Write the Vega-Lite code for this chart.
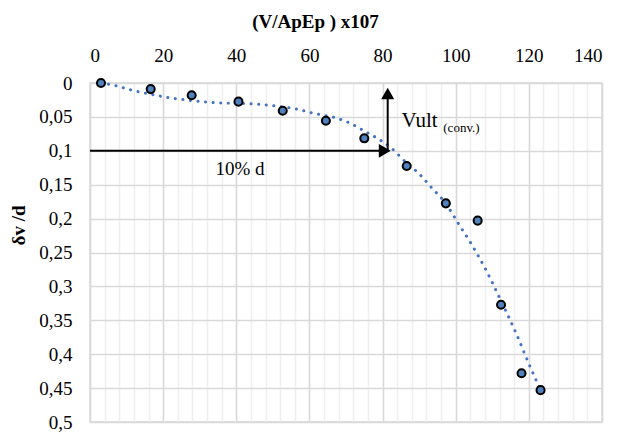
{
  "$schema": "https://vega.github.io/schema/vega-lite/v6.json",
  "width": 512,
  "height": 339,
  "autosize": "none",
  "padding": {"left": 90, "top": 83, "right": 16, "bottom": 14},
  "background": "white",
  "config": {
    "view": {"stroke": "#D4D4D4", "strokeWidth": 1.5},
    "font": "Liberation Serif",
    "axis": {"labelFont": "Liberation Serif", "titleFont": "Liberation Serif", "labelFontSize": 19, "labelColor": "black", "titleColor": "black", "titleFontSize": 19, "titleFontWeight": "bold"},
    "style": {"guide-label": {"font": "Liberation Serif"}, "guide-title": {"font": "Liberation Serif"}}
  },
  "datasets": {
    "points": [
      {"x": 3.0, "y": 0.0},
      {"x": 16.6, "y": 0.009},
      {"x": 27.8, "y": 0.018},
      {"x": 40.6, "y": 0.0275},
      {"x": 52.7, "y": 0.041},
      {"x": 64.5, "y": 0.0556},
      {"x": 75.0, "y": 0.0816},
      {"x": 86.6, "y": 0.1224},
      {"x": 97.3, "y": 0.1775},
      {"x": 106.0, "y": 0.203},
      {"x": 112.4, "y": 0.327},
      {"x": 118.0, "y": 0.428},
      {"x": 123.2, "y": 0.453}
    ],
    "trend": [
      {"x": 3, "y": 0.0},
      {"x": 7, "y": 0.004},
      {"x": 11, "y": 0.010},
      {"x": 17, "y": 0.017},
      {"x": 22, "y": 0.022},
      {"x": 28, "y": 0.026},
      {"x": 34, "y": 0.029},
      {"x": 40, "y": 0.030},
      {"x": 45, "y": 0.031},
      {"x": 50, "y": 0.0335},
      {"x": 56.5, "y": 0.0385},
      {"x": 61, "y": 0.0445},
      {"x": 67.5, "y": 0.052},
      {"x": 71, "y": 0.059},
      {"x": 75.2, "y": 0.0715},
      {"x": 79.3, "y": 0.084},
      {"x": 82.5, "y": 0.0965},
      {"x": 86.6, "y": 0.118},
      {"x": 90.2, "y": 0.135},
      {"x": 93, "y": 0.152},
      {"x": 97.3, "y": 0.178},
      {"x": 100.7, "y": 0.207},
      {"x": 104.1, "y": 0.236},
      {"x": 108.3, "y": 0.276},
      {"x": 112.1, "y": 0.318},
      {"x": 116.5, "y": 0.369},
      {"x": 120, "y": 0.414},
      {"x": 123.2, "y": 0.453}
    ],
    "hArrow": [{"x": 0, "x2": 80.6, "y": 0.1}],
    "hHead": [{"x": 80.6, "y": 0.1}],
    "vArrow": [{"x": 81.4, "y": 0.1, "y2": 0.0155}],
    "vHead": [{"x": 81.4, "y": 0.0155}],
    "label10": [{"x": 41.0, "y": 0.1357, "text": "10% d"}],
    "labelVult": [{"x": 85.2, "y": 0.0653, "text": "Vult"}],
    "labelConv": [{"x": 96.6, "y": 0.0718, "text": "(conv.)"}]
  },
  "encoding": {
    "y": {
      "field": "y",
      "type": "quantitative",
      "scale": {"domain": [0, 0.5], "reverse": true, "nice": false},
      "axis": {
        "values": [0, 0.05, 0.1, 0.15, 0.2, 0.25, 0.3, 0.35, 0.4, 0.45, 0.5],
        "labelExpr": "replace(format(datum.value, '.2~f'), '.', ',')",
        "labelFont": "Liberation Serif",
        "labelFontSize": 19,
        "grid": true,
        "gridColor": "#D9D9D9",
        "gridWidth": 1.5,
        "domain": false,
        "ticks": false,
        "tickSize": 0,
        "labelPadding": 18,
        "title": "δv /d",
        "titleFont": "Liberation Serif",
        "titleAngle": -90,
        "titleX": -72,
        "titleY": 142,
        "titleAlign": "center",
        "titleBaseline": "middle"
      }
    }
  },
  "layer": [
    {
      "data": {"name": "trend"},
      "mark": {"type": "line", "color": "#4472C4", "strokeWidth": 3, "strokeCap": "round", "strokeDash": [0.1, 7.5], "interpolate": "monotone"},
      "encoding": {
        "x": {
          "field": "x",
          "type": "quantitative",
          "scale": {"domain": [0, 140], "nice": false},
          "axis": {
            "orient": "bottom",
            "values": [0, 4, 8, 12, 16, 20, 24, 28, 32, 36, 40, 44, 48, 52, 56, 60, 64, 68, 72, 76, 80, 84, 88, 92, 96, 100, 104, 108, 112, 116, 120, 124, 128, 132, 136, 140],
            "grid": true,
            "gridColor": "#EFEFEF",
            "gridWidth": 1.5,
            "labels": false,
            "ticks": false,
            "domain": false,
            "title": null
          }
        }
      }
    },
    {
      "data": {"name": "hArrow"},
      "mark": {"type": "rule", "color": "black", "strokeWidth": 2},
      "encoding": {
        "x": {"field": "x", "type": "quantitative", "axis": null},
        "x2": {"field": "x2"}
      }
    },
    {
      "data": {"name": "vArrow"},
      "mark": {"type": "rule", "color": "black", "strokeWidth": 2},
      "encoding": {
        "x": {"field": "x", "type": "quantitative", "axis": null},
        "y2": {"field": "y2"}
      }
    },
    {
      "data": {"name": "hHead"},
      "mark": {"type": "point", "shape": "triangle-right", "filled": true, "color": "black", "opacity": 1, "size": 190},
      "encoding": {
        "x": {"field": "x", "type": "quantitative", "axis": null}
      }
    },
    {
      "data": {"name": "vHead"},
      "mark": {"type": "point", "shape": "triangle-up", "filled": true, "color": "black", "opacity": 1, "size": 170},
      "encoding": {
        "x": {"field": "x", "type": "quantitative", "axis": null}
      }
    },
    {
      "data": {"name": "points"},
      "mark": {"type": "point", "shape": "circle", "filled": true, "fill": "#4F81BD", "stroke": "black", "strokeWidth": 2, "opacity": 1, "size": 65},
      "encoding": {
        "x": {
          "field": "x",
          "type": "quantitative",
          "axis": {
            "orient": "top",
            "values": [0, 20, 40, 60, 80, 100, 120, 140],
            "labelFont": "Liberation Serif",
            "labelFontSize": 19,
            "grid": true,
            "gridColor": "#D9D9D9",
            "gridWidth": 1.5,
            "domain": false,
            "ticks": false,
            "tickSize": 0,
            "labelPadding": 18,
            "title": "(V/ApEp ) x107",
            "titleFont": "Liberation Serif",
            "titleX": 225,
            "titleY": -56,
            "titleAlign": "center",
            "titleBaseline": "alphabetic"
          }
        }
      }
    },
    {
      "data": {"name": "label10"},
      "mark": {"type": "text", "font": "Liberation Serif", "fontSize": 19, "color": "black", "align": "center", "baseline": "alphabetic"},
      "encoding": {
        "x": {"field": "x", "type": "quantitative", "axis": null},
        "text": {"field": "text"}
      }
    },
    {
      "data": {"name": "labelVult"},
      "mark": {"type": "text", "font": "Liberation Serif", "fontSize": 21, "color": "black", "align": "left", "baseline": "alphabetic"},
      "encoding": {
        "x": {"field": "x", "type": "quantitative", "axis": null},
        "text": {"field": "text"}
      }
    },
    {
      "data": {"name": "labelConv"},
      "mark": {"type": "text", "font": "Liberation Serif", "fontSize": 13, "color": "black", "align": "left", "baseline": "alphabetic"},
      "encoding": {
        "x": {"field": "x", "type": "quantitative", "axis": null},
        "text": {"field": "text"}
      }
    }
  ],
  "resolve": {"axis": {"x": "independent"}}
}
